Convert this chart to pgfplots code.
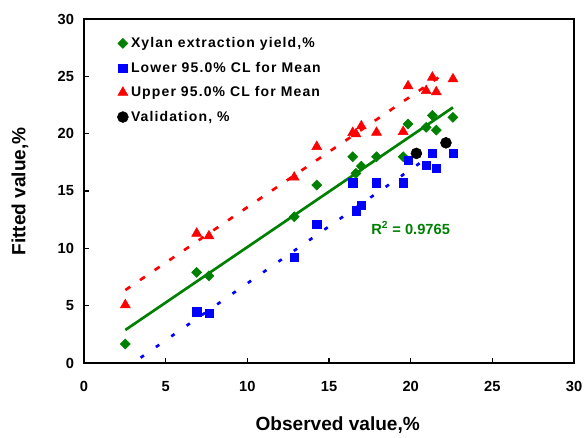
\documentclass[border=0pt]{standalone}
\usepackage{pgfplots}
\pgfplotsset{compat=1.18}
\usepackage{fontspec}
\setmainfont{Liberation Sans}
\newfontfamily\legendfont{Liberation Sans}[LetterSpace=8]
\definecolor{fitgreen}{RGB}{0,128,0}
\definecolor{clblue}{RGB}{0,0,255}
\definecolor{clred}{RGB}{255,0,0}

\begin{document}
\begin{tikzpicture}
\begin{axis}[
  at={(0pt,0pt)}, anchor=south west,
  scale only axis, width=367.5pt, height=258pt,
  xmin=0, xmax=30, ymin=0, ymax=30,
  xtick={0,5,...,30}, ytick={0,5,...,30},
  tick align=inside, tick pos=left,
  major tick length=4pt,
  axis line style={line width=1.8pt},
  tick style={black, line width=0.8pt},
  /pgf/number format/assume math mode=true,
  tick label style={font=\bfseries\fontsize{11}{13}\selectfont},
  xticklabel style={yshift=-10.5pt},
  yticklabel style={xshift=-4pt},
  label style={font=\bfseries\fontsize{14.3}{16}\selectfont},
  xlabel={Observed value,\%},
  ylabel={Fitted value,\%},
  xlabel style={at={(axis description cs:0.5178,-0.1802)}, anchor=center},
  ylabel style={at={(axis description cs:-0.1306,0.4985)}, anchor=center},
  legend style={draw=none, fill=none, at={(0.0595,0.963)}, anchor=north west,
    font=\legendfont\bfseries\fontsize{10.5}{12.5}\selectfont, row sep=5.3pt},
  legend image post style={xshift=-5pt},
  legend cell align=left,
]
% linear trendlines
\addplot[forget plot, fitgreen, line width=2pt] coordinates {(2.53,2.88) (22.59,22.29)};
\addplot[forget plot, clred, line width=2pt, dash pattern=on 4.5pt off 8.8pt] coordinates {(2.53,6.36) (21.9,25.09)};
\addplot[forget plot, clblue, line width=2pt, dash pattern=on 3pt off 11pt] coordinates {(2.53,-0.47) (22.59,19.45)};

% observed vs fitted
\addplot[only marks, mark=square*, mark size=2.65pt, mark options={rotate=45, fitgreen, fill=fitgreen}] coordinates {
(2.53,1.66) (6.90,7.90) (7.65,7.60) (12.87,12.76) (14.25,15.52) (16.45,17.99)
(16.65,16.54) (16.98,17.17) (17.91,17.99) (19.54,17.99) (19.84,20.84) (20.95,20.55)
(21.33,21.59) (21.57,20.31) (22.59,21.42)};
\addlegendentry{Xylan extraction yield,\%}

\addplot[only marks, mark=square*, mark size=3.1pt, mark options={clblue, fill=clblue}] coordinates {
(6.90,4.47) (7.65,4.33) (12.87,9.20) (14.25,12.12) (16.45,15.72)
(16.65,13.28) (16.98,13.75) (17.91,15.72) (19.54,15.72) (19.84,17.70) (20.95,17.26)
(21.33,18.28) (21.57,17.00) (22.59,18.28)};
\addlegendentry{Lower 95.0\% CL for Mean}

\addplot[only marks, mark=triangle*, mark size=4.3pt, mark options={clred, fill=clred}] coordinates {
(2.53,5.06) (6.90,11.30) (7.65,11.07) (12.87,16.19) (14.25,18.86) (16.45,20.08)
(16.65,19.97) (16.98,20.66) (17.91,20.10) (19.54,20.17) (19.84,24.15) (20.95,23.74)
(21.33,24.91) (21.57,23.63) (22.59,24.76)};
\addlegendentry{Upper 95.0\% CL for Mean}

\addplot[only marks, mark=*, mark size=4.1pt, mark options={black, fill=black}] coordinates {
(20.35,18.28) (22.16,19.20)};
\addlegendentry{Validation, \%}

\node[text=fitgreen, font=\bfseries\fontsize{11}{13}\selectfont] at (axis cs:20.0,11.77) {R$^{\mathbf{2}}$ = 0.9765};
\end{axis}
\pgfresetboundingbox
\path (-63pt,-55.5pt) rectangle (375pt,272.25pt);
\end{tikzpicture}
\end{document}
